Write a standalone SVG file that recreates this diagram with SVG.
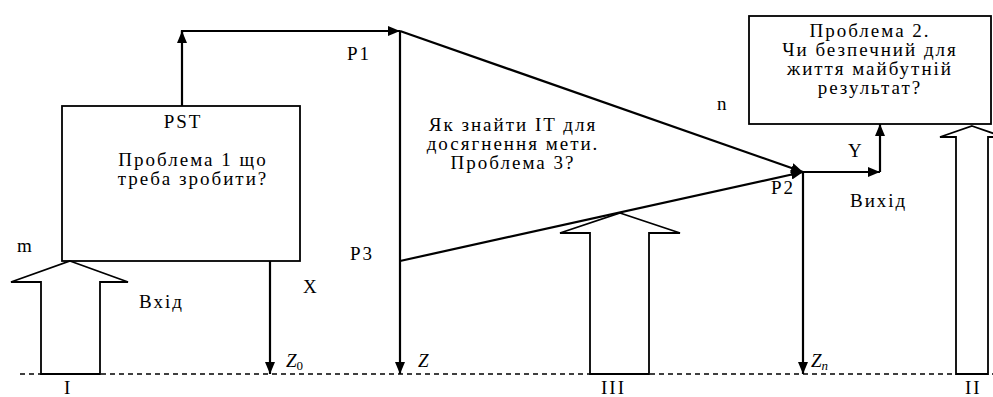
<svg xmlns="http://www.w3.org/2000/svg" width="993" height="397" viewBox="0 0 993 397">
<defs>
<style>
.t{font-family:"Liberation Serif","Times New Roman",serif;font-size:19px;letter-spacing:2px;fill:#000}
.c{text-anchor:middle}
.i{font-style:italic;letter-spacing:0}
.box{fill:#fff;stroke:#000;stroke-width:1.8}
.blk{fill:#fff;stroke:#000;stroke-width:1.8;stroke-linejoin:miter}
.ln{fill:none;stroke:#000;stroke-width:2.2}
.dash{fill:none;stroke:#000;stroke-width:1.3;stroke-dasharray:5 4}
</style>
<marker id="ah" viewBox="0 0 12 10" refX="12" refY="5" markerWidth="12" markerHeight="10" markerUnits="userSpaceOnUse" orient="auto">
<path d="M0,0 L12,5 L0,10 Z" fill="#000"/>
</marker>
</defs>
<rect width="993" height="397" fill="#fff"/>

<g id="baseline">
<line class="dash" x1="20" y1="374" x2="993" y2="374"/>
</g>

<g id="node-pst">
<rect class="box" x="62" y="106" width="238" height="155"/>
<text class="t c" x="183" y="128">PST</text>
<text class="t c" x="193" y="166">Проблема 1 що</text>
<text class="t c" x="193" y="185">треба зробити?</text>
</g>

<g id="node-problem2">
<rect class="box" x="749" y="16" width="242" height="108"/>
<text class="t c" x="870" y="37">Проблема 2.</text>
<text class="t c" x="870" y="56">Чи безпечний для</text>
<text class="t c" x="870" y="75">життя майбутній</text>
<text class="t c" x="870" y="94">результат?</text>
</g>

<g id="node-problem3">
<text class="t c" x="513" y="131">Як знайти IT для</text>
<text class="t c" x="513" y="150">досягнення мети.</text>
<text class="t c" x="513" y="169">Проблема 3?</text>
</g>

<g id="block-I">
<polygon class="blk" points="70,261 128,282 100,282 100,374 41,374 41,282 11,282"/>
<text class="t" x="64" y="394">I</text>
</g>
<g id="block-III">
<polygon class="blk" points="620,213 680,233 649,233 649,374 590,374 590,233 560,233"/>
<text class="t" x="601" y="394">III</text>
</g>
<g id="block-II">
<polygon class="blk" points="972,126 1004,137 988,137 988,374 956,374 956,137 940,137"/>
<text class="t" x="965" y="394">II</text>
</g>

<g id="connectors">
<polyline class="ln" points="182,106 182,31 400,31" marker-end="url(#ah)"/>
<line class="ln" x1="182" y1="40" x2="182" y2="31" marker-end="url(#ah)"/>
<line class="ln" x1="400" y1="31" x2="400" y2="374" marker-end="url(#ah)"/>
<line class="ln" x1="400" y1="31" x2="803" y2="172" marker-end="url(#ah)"/>
<line class="ln" x1="400" y1="261" x2="803" y2="172" marker-end="url(#ah)"/>
<line class="ln" x1="270" y1="261" x2="270" y2="374" marker-end="url(#ah)"/>
<line class="ln" x1="803" y1="172" x2="803" y2="374" marker-end="url(#ah)"/>
<line class="ln" x1="803" y1="172" x2="880" y2="172" marker-end="url(#ah)"/>
<line class="ln" x1="880" y1="172" x2="880" y2="124" marker-end="url(#ah)"/>
</g>

<g id="labels">
<text class="t" x="347" y="60">P1</text>
<text class="t" x="350" y="260">P3</text>
<text class="t" x="771" y="194">P2</text>
<text class="t" x="717" y="110">n</text>
<text class="t" x="17" y="252">m</text>
<text class="t" x="139" y="308">Вхід</text>
<text class="t" x="303" y="293">X</text>
<text class="t" x="848" y="157">Y</text>
<text class="t" x="850" y="207">Вихід</text>
<text class="t i" x="286" y="367">Z<tspan font-size="13" font-style="normal" dy="3">0</tspan></text>
<text class="t i" x="418" y="367">Z</text>
<text class="t i" x="811" y="367">Z<tspan font-size="13" dy="3">n</tspan></text>
</g>
</svg>
